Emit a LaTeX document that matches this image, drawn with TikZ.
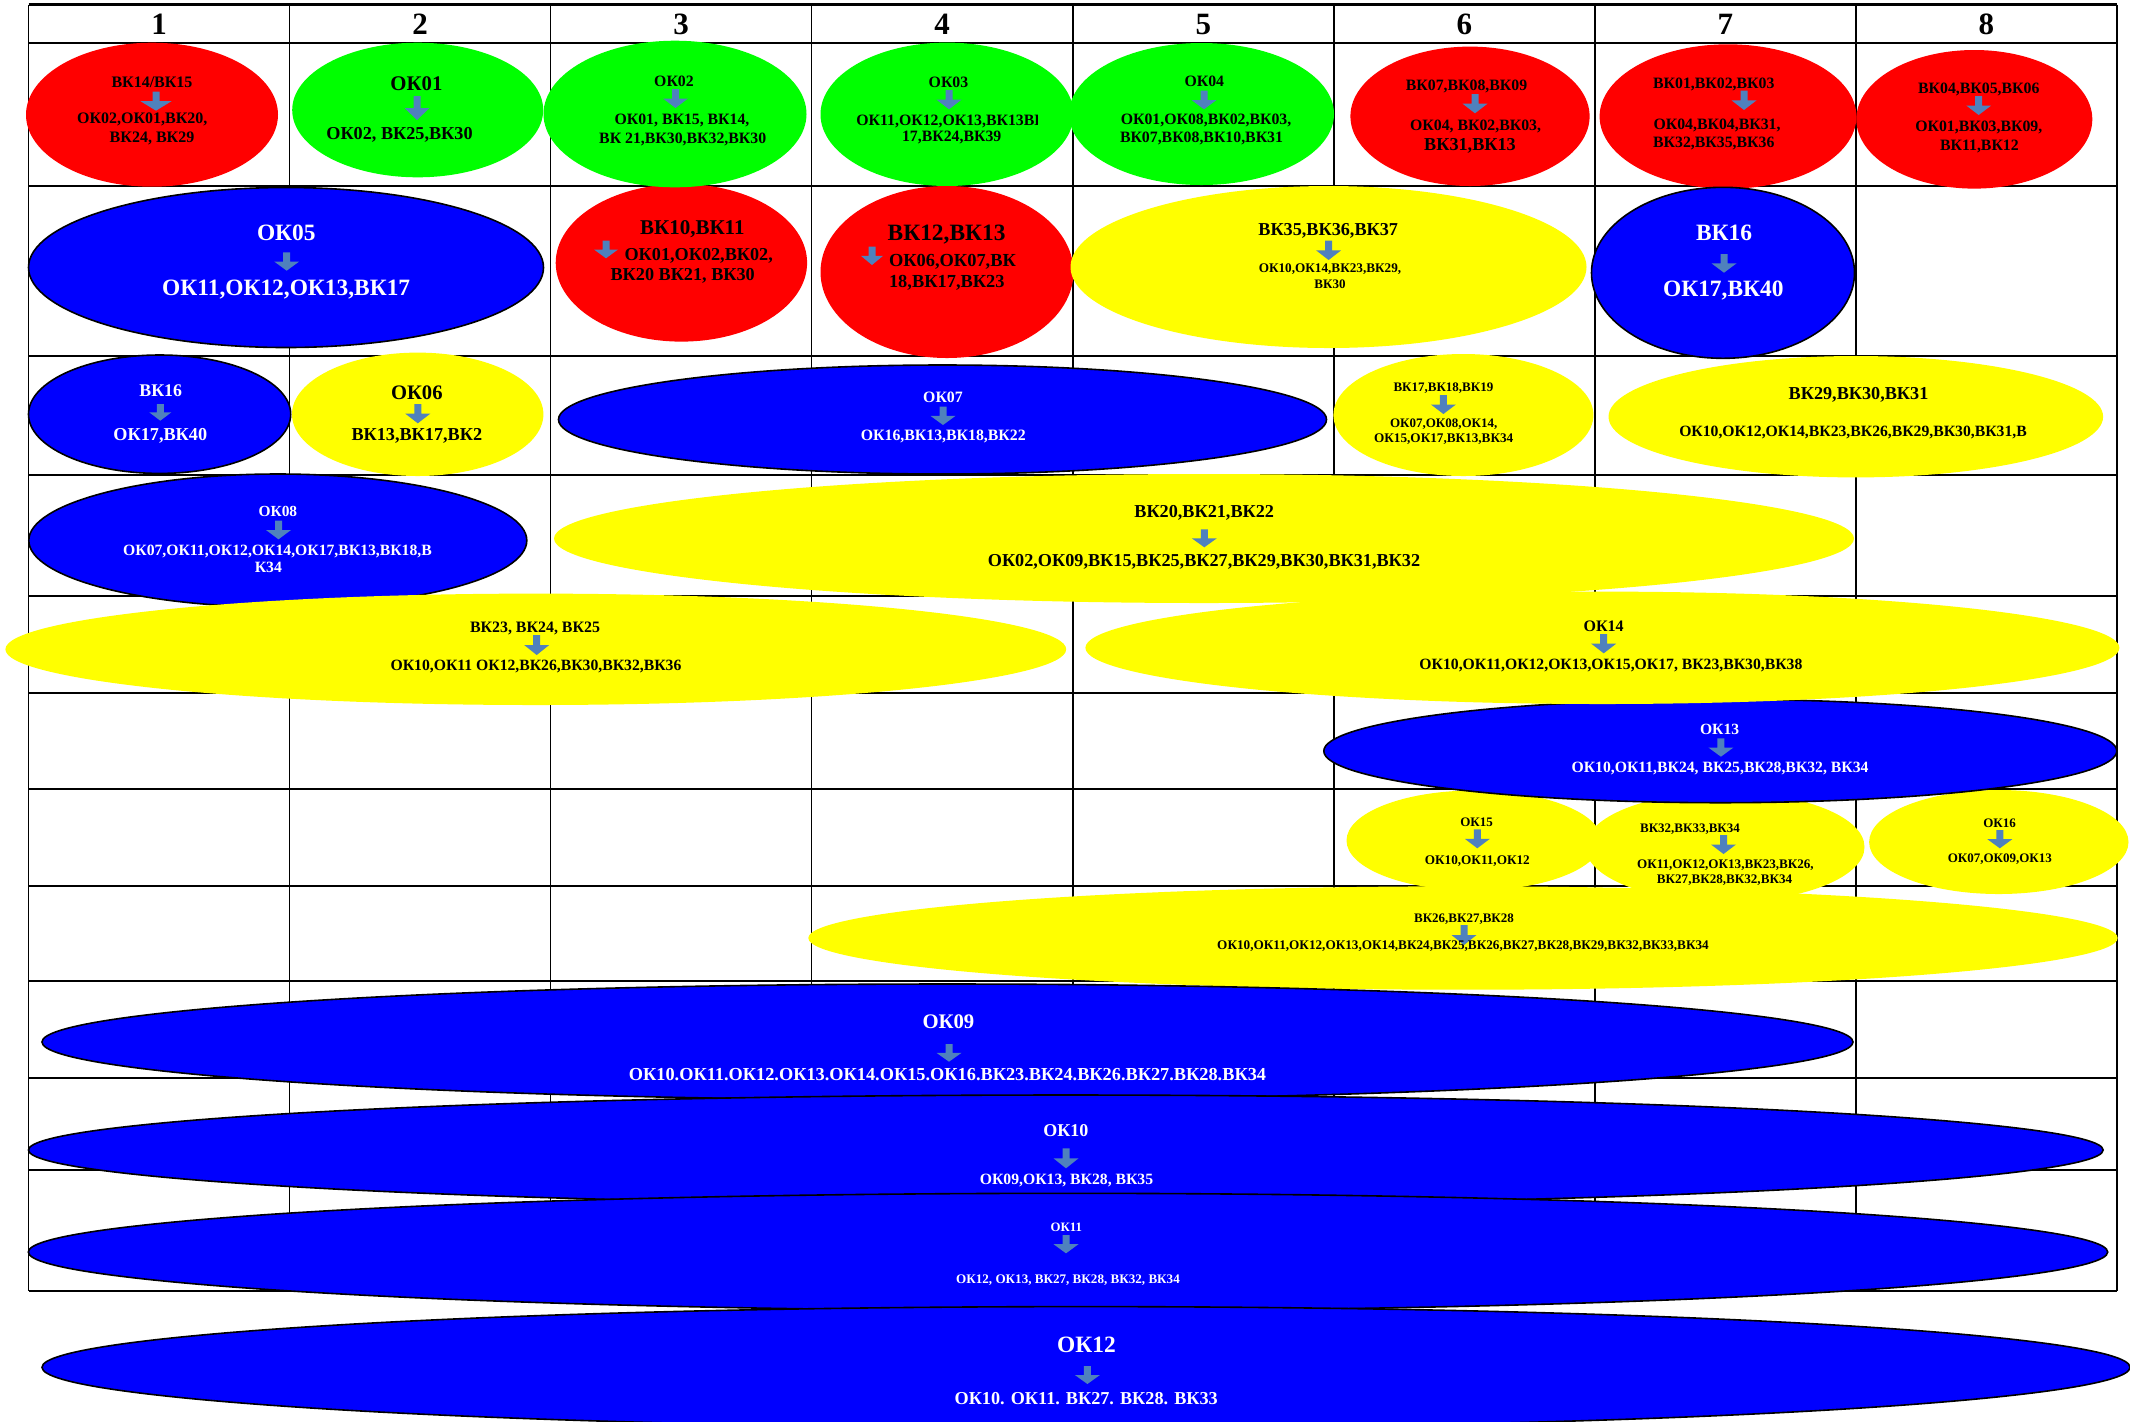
\documentclass[tikz,border=0pt]{standalone}
\usepackage{fontspec}
\setmainfont{Liberation Serif}
\usetikzlibrary{shapes.geometric}
\definecolor{cred}{RGB}{255,0,0}
\definecolor{cgreen}{RGB}{0,255,0}
\definecolor{cblue}{RGB}{0,0,255}
\definecolor{cyellow}{RGB}{255,255,0}
\definecolor{arrowc}{RGB}{79,129,189}
\newcommand\dnarrow[4]{%
  \fill[arrowc] ({#1-3.5},{#2}) -- ({#1+3.5},{#2}) -- ({#1+3.5},{(#2+#3)/2}) -- ({#1+#4/2},{(#2+#3)/2}) -- ({#1},{#3}) -- ({#1-#4/2},{(#2+#3)/2}) -- ({#1-3.5},{(#2+#3)/2}) -- cycle;}
% ellipse sizes given as half-axes in picture pixels (1 px = 0.5pt)
\tikzset{
  ell/.style={ellipse, inner sep=0pt, outer sep=0pt},
  ax/.style 2 args={minimum width=#1 pt, minimum height=#2 pt},
  redE/.style={ell, fill=cred},
  greenE/.style={ell, fill=cgreen},
  yellowE/.style={ell, fill=cyellow},
  blueE/.style={ell, fill=cblue, draw=black, line width=0.8pt},
  tx/.style={anchor=base, inner sep=0pt, text=black},
  wt/.style={anchor=base, inner sep=0pt, text=white},
  fs/.style={font=\bfseries\fontsize{#1}{#1}\selectfont},
  hline/.style={line width=1pt, black},
  vline/.style={line width=0.75pt, black},
}
\begin{document}
\begin{tikzpicture}[x=0.5pt, y=-0.5pt]
\useasboundingbox (0,0) rectangle (2130,1421);
\clip (0,0) rectangle (2130,1421);
\fill[white] (0,0) rectangle (2130,1421);
% grid
\foreach \yy in {42.7,185.5,355.7,474.7,595.7,693.3,789.3,885.7,980.7,1077.7,1170,1290.7}
  \draw[hline] (28.5,\yy) -- (2117,\yy);
\draw[line width=1.3pt] (28.5,4.7) -- (2117,4.7);
\foreach \i in {0,...,8}
  \draw[vline] ({28.5+261.06*\i},4.7) -- ({28.5+261.06*\i},1290.7);
\foreach \i in {1,...,8}
  \node[tx, fs=15.5] (h\i) at ({28.5+261.06*(\i-0.5)},34) {\i};
% ellipses
\node[redE, ax={126}{72}] (e1) at (152,114.7) {};
\node[redE, ax={125.7}{78.8}] (e10) at (681.4,262.8) {};
\node[greenE, ax={125.5}{67.3}] (e2) at (417.7,110) {};
\node[greenE, ax={131.5}{73.3}] (e3) at (675,114) {};
\node[greenE, ax={126.5}{71.7}] (e4) at (947,114.3) {};
\node[greenE, ax={132.5}{71}] (e5) at (1201.5,114) {};
\node[redE, ax={119.6}{69.7}] (e6) at (1470,116.3) {};
\node[redE, ax={128.4}{72.2}] (e7) at (1728,116.5) {};
\node[redE, ax={118}{69.3}] (e8) at (1974.3,119.3) {};
\node[blueE, ax={257.5}{80}] (e9) at (286,267.5) {};
\node[redE, ax={126.5}{86}] (e11) at (947,272) {};
\node[yellowE, ax={258}{81}] (e12) at (1328.5,267) {};
\node[yellowE, ax={247.3}{60.7}] (e18) at (1855.8,416.7) {};
\node[blueE, ax={131.5}{85.5}] (e13) at (1723,272.8) {};
\node[blueE, ax={131.1}{59.2}] (e14) at (159.6,414.2) {};
\node[yellowE, ax={125.7}{61.7}] (e15) at (417.7,414.3) {};
\node[blueE, ax={384}{54.5}] (e16) at (942.5,419.5) {};
\node[yellowE, ax={130}{61}] (e17) at (1463.4,415) {};
\node[blueE, ax={249}{66.5}] (e19) at (277.8,540.5) {};
\node[yellowE, ax={650}{64.5}] (e20) at (1204,538.5) {};
\node[yellowE, ax={530.4}{55.7}] (e21) at (535.8,649.3) {};
\node[yellowE, ax={127.5}{50}] (e24) at (1474,840.5) {};
\node[yellowE, ax={139.5}{55}] (e25) at (1725,847) {};
\node[yellowE, ax={129.7}{52}] (e26) at (1998.8,842) {};
\node[blueE, ax={396.5}{51.7}] (e23) at (1720.3,751) {};
\node[yellowE, ax={517}{56.2}] (e22) at (1602.4,647.8) {};
\node[yellowE, ax={654.7}{51.7}] (e27) at (1463,938) {};
\node[blueE, ax={905.5}{58}] (e28) at (947.5,1042) {};
\node[blueE, ax={1037.3}{55}] (e29) at (1065.8,1150) {};
\node[blueE, ax={1039.7}{58.7}] (e30) at (1068,1252) {};
\node[blueE, ax={1044}{60.7}] (e31) at (1086,1367.3) {};
% ---- texts and arrows ----
% row 1
\node[tx, fs=8] (t1a) at (152,87.7) {ВК14/ВК15};
\dnarrow{156}{91.7}{110.7}{31}
\node[tx, fs=8] (t1b) at (142.3,123.3) {ОК02,ОК01,ВК20,};
\node[tx, fs=8] (t1c) at (152,142.7) {ВК24, ВК29};
\node[tx, fs=10.4] (t2a) at (416.5,90) {ОК01};
\dnarrow{417}{96}{120}{25}
\node[tx, fs=9.1] (t2b) at (399.5,139) {ОК02, ВК25,ВК30};
\node[tx, fs=7.9] (t3a) at (674,86) {ОК02};
\dnarrow{675.5}{89}{108}{25}
\node[tx, fs=7.9] (t3b) at (682,124) {ОК01, ВК15, ВК14,};
\node[tx, fs=7.9] (t3c) at (682.7,143.3) {ВК 21,ВК30,ВК32,ВК30};
\node[tx, fs=7.9] (t4a) at (948.5,87.3) {ОК03};
\dnarrow{949}{90}{109.3}{25}
\begin{scope}
\clip (820,100) rectangle (1037,135);
\node[tx, fs=7.9, anchor=base west] (t4b) at (856,125) {ОК11,ОК12,ОК13,ВК13ВК};
\end{scope}
\node[tx, fs=7.9] (t4c) at (951.7,141.7) {17,ВК24,ВК39};
\node[tx, fs=7.9] (t5a) at (1204.3,86) {ОК04};
\dnarrow{1204}{90.7}{109.3}{25}
\node[tx, fs=7.9] (t5b) at (1206,124) {ОК01,ОК08,ВК02,ВК03,};
\node[tx, fs=7.9] (t5c) at (1201.5,142.7) {ВК07,ВК08,ВК10,ВК31};
\node[tx, fs=7.9] (t6a) at (1466.5,90) {ВК07,ВК08,ВК09};
\dnarrow{1475}{94}{113.3}{25}
\node[tx, fs=7.9] (t6b) at (1475.6,130) {ОК04, ВК02,ВК03,};
\node[tx, fs=9.1] (t6c) at (1470,150.7) {ВК31,ВК13};
\node[tx, fs=7.9] (t7a) at (1713.8,88.3) {ВК01,ВК02,ВК03};
\dnarrow{1744}{90.7}{110}{25}
\node[tx, fs=7.9] (t7b) at (1717,129.3) {ОК04,ВК04,ВК31,};
\node[tx, fs=7.9] (t7c) at (1713.8,147.7) {ВК32,ВК35,ВК36};
\node[tx, fs=7.9] (t8a) at (1978.8,93.3) {ВК04,ВК05,ВК06};
\dnarrow{1978.7}{96}{115}{25}
\node[tx, fs=7.9] (t8b) at (1978.8,131.7) {ОК01,ВК03,ВК09,};
\node[tx, fs=7.9] (t8c) at (1979.4,150) {ВК11,ВК12};
% row 2
\node[wt, fs=11.7] (t9a) at (286.3,240) {ОК05};
\dnarrow{286.7}{252.3}{270.7}{25}
\node[wt, fs=11.7] (t9b) at (286.2,295) {ОК11,ОК12,ОК13,ВК17};
\node[tx, fs=10.5] (t10a) at (692.3,234) {ВК10,ВК11};
\dnarrow{606}{240.7}{258.3}{24}
\node[tx, fs=9.1] (t10b) at (698.7,260) {ОК01,ОК02,ВК02,};
\node[tx, fs=9.1] (t10c) at (682.7,280) {ВК20 ВК21, ВК30};
\node[tx, fs=11.7] (t11a) at (946.6,240.7) {ВК12,ВК13};
\dnarrow{872}{246.7}{265}{22}
\node[tx, fs=9.2, anchor=base west] (t11b) at (888.6,266.7) {ОК06,ОК07,ВК};
\node[tx, fs=9.2, anchor=base west] (t11c) at (888.6,287.3) {18,ВК17,ВК23};
\node[tx, fs=9.1] (t12a) at (1328.2,235) {ВК35,ВК36,ВК37};
\dnarrow{1328.6}{240.7}{260}{25}
\node[tx, fs=6.6] (t12b) at (1330,272.7) {ОК10,ОК14,ВК23,ВК29,};
\node[tx, fs=6.5] (t12c) at (1330,288.7) {ВК30};
\node[wt, fs=11.7] (t13a) at (1724,240.7) {ВК16};
\dnarrow{1724}{254}{272.7}{25}
\node[wt, fs=11.7] (t13b) at (1723.3,296) {ОК17,ВК40};
% row 3
\node[wt, fs=8.9] (t14a) at (160.7,396.7) {ВК16};
\dnarrow{160.3}{404}{420.7}{22}
\node[wt, fs=9.1] (t14b) at (160.3,440) {ОК17,ВК40};
\node[tx, fs=10.3] (t15a) at (416.8,399.3) {ОК06};
\dnarrow{417.8}{404}{423.3}{25}
\node[tx, fs=9.1] (t15b) at (416.8,440.7) {ВК13,ВК17,ВК2};
\node[wt, fs=7.9] (t16a) at (943,402.7) {ОК07};
\dnarrow{943}{406.7}{425}{25}
\node[wt, fs=7.9] (t16b) at (943.3,440.7) {ОК16,ВК13,ВК18,ВК22};
\node[tx, fs=6.5] (t17a) at (1443.4,391.7) {ВК17,ВК18,ВК19};
\dnarrow{1443.4}{395}{414}{25}
\node[tx, fs=6.5] (t17b) at (1443.7,427.3) {ОК07,ОК08,ОК14,};
\node[tx, fs=6.6] (t17c) at (1443.7,442.7) {ОК15,ОК17,ВК13,ВК34};
\node[tx, fs=9.1] (t18a) at (1858.5,399) {ВК29,ВК30,ВК31};
\node[tx, fs=7.85] (t18b) at (1853,436) {ОК10,ОК12,ОК14,ВК23,ВК26,ВК29,ВК30,ВК31,В};
% row 4
\node[wt, fs=7.7] (t19a) at (277.9,516.7) {ОК08};
\dnarrow{278.5}{520.7}{539.3}{25}
\node[wt, fs=7.85] (t19b) at (277.5,555) {ОК07,ОК11,ОК12,ОК14,ОК17,ВК13,ВК18,В};
\node[wt, fs=7.85] (t19c) at (268.4,572.7) {К34};
\node[tx, fs=9.1] (t20a) at (1204.2,517.7) {ВК20,ВК21,ВК22};
\dnarrow{1204.3}{529.3}{547.3}{25}
\node[tx, fs=9.1] (t20b) at (1204,566.7) {ОК02,ОК09,ВК15,ВК25,ВК27,ВК29,ВК30,ВК31,ВК32};
% row 5
\node[tx, fs=7.95] (t21a) at (535,632.7) {ВК23, ВК24, ВК25};
\dnarrow{536.7}{635}{655}{25}
\node[tx, fs=7.85] (t21b) at (536,670.7) {ОК10,ОК11 ОК12,ВК26,ВК30,ВК32,ВК36};
\node[tx, fs=8] (t22a) at (1603.7,631) {ОК14};
\dnarrow{1603.7}{634}{653.3}{25}
\node[tx, fs=7.85] (t22b) at (1610.9,669) {ОК10,ОК11,ОК12,ОК13,ОК15,ОК17, ВК23,ВК30,ВК38};
% row 6
\node[wt, fs=7.8] (t23a) at (1719.6,734) {ОК13};
\dnarrow{1720.9}{738.3}{756.7}{25}
\node[wt, fs=7.85] (t23b) at (1720,772.7) {ОК10,ОК11,ВК24, ВК25,ВК28,ВК32, ВК34};
% row 7
\node[tx, fs=6.5] (t24a) at (1476.5,826.7) {ОК15};
\dnarrow{1477.3}{829.3}{848.3}{25}
\node[tx, fs=6.6] (t24b) at (1477.3,864) {ОК10,ОК11,ОК12};
\node[tx, fs=6.5] (t25a) at (1690,832.7) {ВК32,ВК33,ВК34};
\dnarrow{1723.5}{835}{854}{25}
\node[tx, fs=6.55] (t25b) at (1725.4,868.3) {ОК11,ОК12,ОК13,ВК23,ВК26,};
\node[tx, fs=6.55] (t25c) at (1724.5,883.3) {ВК27,ВК28,ВК32,ВК34};
\node[tx, fs=6.5] (t26a) at (1999.6,827.3) {ОК16};
\dnarrow{1999.8}{830}{848.3}{25}
\node[tx, fs=6.5] (t26b) at (1999.8,862.7) {ОК07,ОК09,ОК13};
% row 8
\node[tx, fs=6.5] (t27a) at (1464,922.7) {ВК26,ВК27,ВК28};
\dnarrow{1464}{925}{945}{25}
\node[tx, fs=6.6] (t27b) at (1463,949.3) {ОК10,ОК11,ОК12,ОК13,ОК14,ВК24,ВК25,ВК26,ВК27,ВК28,ВК29,ВК32,ВК33,ВК34};
% rows 9-12
\node[wt, fs=10.35] (t28a) at (948.4,1028.3) {ОК09};
\dnarrow{949}{1044}{1061.7}{25}
\node[wt, fs=9.15] (t28b) at (947.5,1080.7) {ОК10.ОК11.ОК12.ОК13.ОК14.ОК15.ОК16.ВК23.ВК24.ВК26.ВК27.ВК28.ВК34};
\node[wt, fs=9] (t29a) at (1065.8,1136.7) {ОК10};
\dnarrow{1066}{1148.3}{1168.3}{25}
\node[wt, fs=7.85] (t29b) at (1066.5,1184) {ОК09,ОК13, ВК28, ВК35};
\node[wt, fs=6.4] (t30a) at (1066.3,1231.7) {ОК11};
\dnarrow{1066}{1235}{1253.3}{25}
\node[wt, fs=6.55] (t30b) at (1068,1283.3) {ОК12, ОК13, ВК27, ВК28, ВК32, ВК34};
\node[wt, fs=11.7] (t31a) at (1086.4,1352.7) {ОК12};
\dnarrow{1087.4}{1366}{1384}{25}
\node[wt, fs=9.1] (t31b) at (1086.2,1404.3) {ОК10. ОК11. ВК27. ВК28. ВК33};
\end{tikzpicture}
\end{document}
